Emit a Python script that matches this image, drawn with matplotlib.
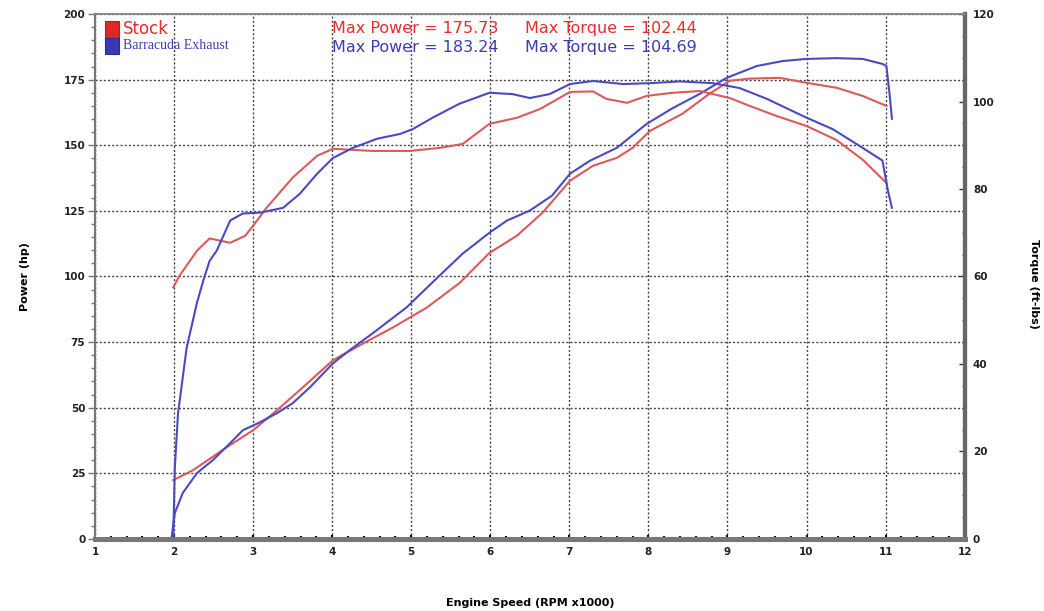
import matplotlib
matplotlib.use("Agg")
import matplotlib.pyplot as plt
from matplotlib.ticker import MultipleLocator
from matplotlib.patches import Rectangle

# ---- データ (rpm x1000) ----
stock_pwr_rpm = [1.99, 2.24, 2.67, 3.0, 3.30, 3.59, 4.01, 4.35, 4.77, 5.20, 5.61, 5.99, 6.34,
                 6.66, 7.01, 7.30, 7.60, 7.80, 8.02, 8.43, 8.77, 9.03, 9.28, 9.66, 10.0, 10.38,
                 10.71, 11.01]
stock_pwr = [22.4, 26.2, 35.0, 41.4, 49.0, 56.7, 68.1, 73.8, 80.6, 88.2, 97.5, 109.0, 115.6,
             124.3, 136.5, 142.2, 145.2, 149.0, 155.5, 162.0, 169.6, 174.6, 175.4, 175.7, 173.8,
             171.9, 168.8, 165.0]

stock_trq_rpm = [1.99, 2.07, 2.29, 2.45, 2.71, 2.90, 3.0, 3.17, 3.50, 3.81, 4.01, 4.51, 4.98,
                 5.36, 5.65, 5.99, 6.34, 6.63, 7.01, 7.30, 7.47, 7.73, 7.98, 8.31, 8.65, 9.03,
                 9.28, 9.62, 10.0, 10.38, 10.71, 11.01]
stock_trq = [57.5, 60.2, 65.9, 68.7, 67.7, 69.3, 71.6, 75.7, 82.6, 87.6, 89.2, 88.7, 88.7,
             89.4, 90.3, 94.9, 96.3, 98.3, 102.2, 102.3, 100.6, 99.7, 101.3, 102.0, 102.4, 100.8,
             99.0, 96.7, 94.4, 91.2, 86.7, 81.4]

baracuda_pwr_rpm = [1.97, 2.01, 2.11, 2.29, 2.49, 2.71, 2.87, 3.09, 3.30, 3.50, 3.72, 4.01, 4.22,
                    4.51, 4.94, 5.36, 5.65, 5.99, 6.21, 6.50, 6.78, 7.01, 7.26, 7.60, 7.98, 8.31,
                    8.65, 8.99, 9.37, 9.70, 10.0, 10.38, 10.71, 10.96, 11.01, 11.05, 11.08]
baracuda_pwr = [0.8, 9.9, 17.5, 25.1, 30.0, 36.5, 41.4, 44.5, 47.9, 51.7, 57.8, 66.9, 71.9,
                78.3, 88.2, 100.4, 108.7, 116.7, 121.3, 125.1, 130.8, 139.2, 144.1, 149.0, 158.2,
                164.2, 169.6, 175.7, 180.2, 182.1, 182.9, 183.2, 182.9, 181.0, 180.2, 169.6, 160.1]

baracuda_trq_rpm = [1.99, 2.01, 2.05, 2.16, 2.29, 2.37, 2.45, 2.54, 2.71, 2.87, 3.09, 3.38, 3.59,
                    3.81, 4.01, 4.26, 4.57, 4.86, 5.02, 5.27, 5.61, 5.99, 6.28, 6.50, 6.75, 7.01,
                    7.30, 7.68, 8.02, 8.40, 8.81, 9.15, 9.50, 10.0, 10.33, 10.71, 10.96, 11.03,
                    11.08]
baracuda_trq = [0.5, 16.4, 28.7, 43.8, 54.0, 59.1, 63.6, 65.9, 72.8, 74.4, 74.6, 75.7, 78.9,
                83.5, 87.1, 89.4, 91.5, 92.6, 93.7, 96.3, 99.5, 102.0, 101.7, 100.8, 101.7, 104.0,
                104.69, 104.0, 104.2, 104.6, 104.2, 103.1, 100.6, 96.3, 93.7, 89.4, 86.5, 79.6,
                75.7]

RED = "#dc5a5a"
BLUE = "#4a4ac4"
RED_TXT = "#ee2a2a"
BLUE_TXT = "#3c3cb4"
NARROW = ["Liberation Sans Narrow", "DejaVu Sans"]

# ---- 描画 ----
fig = plt.figure(figsize=(10.44, 6.11), dpi=100)
ax = fig.add_axes([0.091, 0.118, 0.833, 0.859])
ax.set_xlim(1, 12)
ax.set_ylim(0, 200)

ax.plot(stock_pwr_rpm, stock_pwr, color=RED, lw=1.5, zorder=3)
ax.plot(baracuda_pwr_rpm, baracuda_pwr, color=BLUE, lw=1.5, zorder=3)

ax2 = ax.twinx()
ax2.set_ylim(0, 120)
ax2.plot(stock_trq_rpm, stock_trq, color=RED, lw=1.5)
ax2.plot(baracuda_trq_rpm, baracuda_trq, color=BLUE, lw=1.5)

# grid
ax.xaxis.set_major_locator(MultipleLocator(1))
ax.xaxis.set_minor_locator(MultipleLocator(0.2))
ax.yaxis.set_major_locator(MultipleLocator(25))
ax.yaxis.set_minor_locator(MultipleLocator(5))
ax.grid(True, which="major", color="#444444", ls=(0, (1.5, 1.5)), lw=1.0)
ax2.yaxis.set_major_locator(MultipleLocator(20))
ax2.yaxis.set_minor_locator(MultipleLocator(5))

# spines
for a in (ax, ax2):
    a.spines["top"].set_color("#888888")
    a.spines["top"].set_linewidth(1.2)
    a.spines["left"].set_color("#777777")
    a.spines["left"].set_linewidth(1.5)
    a.spines["bottom"].set_color("#777777")
    a.spines["bottom"].set_linewidth(3.5)
    a.spines["right"].set_color("#666666")
    a.spines["right"].set_linewidth(3.0)

ax.tick_params(axis="x", which="major", direction="in", length=3, width=1.5, color="black",
               pad=6, labelsize=7.5)
ax.tick_params(axis="x", which="minor", direction="in", length=2, width=1.5, color="black")
ax.tick_params(axis="y", which="major", direction="out", length=5, width=1, color="#777777",
               pad=2, labelsize=7.5)
ax.tick_params(axis="y", which="minor", direction="out", length=3, width=1, color="#777777")
ax2.tick_params(axis="y", which="major", direction="in", length=4, width=1, color="#333333",
                pad=6, labelsize=7.5)
ax2.tick_params(axis="y", which="minor", direction="in", length=2, width=1, color="#333333")
for lab in ax.get_xticklabels() + ax.get_yticklabels() + ax2.get_yticklabels():
    lab.set_fontweight("bold")
    lab.set_color("#222222")

ax.set_ylabel("Power (hp)", fontsize=8, fontweight="bold", labelpad=24)
fig.text(0.990, 0.535, "Torque (ft-lbs)", fontsize=8, fontweight="bold", rotation=270,
         ha="center", va="center")
fig.text(0.508, 0.005, "Engine Speed (RPM x1000)", fontsize=8, fontweight="bold",
         ha="center", va="bottom")

# ---- 凡例 ----
ax.add_patch(Rectangle((0.012, 0.955), 0.016, 0.031, transform=ax.transAxes,
                       facecolor="#e02828", edgecolor="#b02020", lw=0.8, zorder=5))
ax.add_patch(Rectangle((0.012, 0.924), 0.016, 0.031, transform=ax.transAxes,
                       facecolor="#3a3ab0", edgecolor="#2a2a90", lw=0.8, zorder=5))
ax.text(0.032, 0.972, "Stock", transform=ax.transAxes, color=RED_TXT, fontsize=12,
        family=NARROW, va="center", ha="left")
ax.text(0.032, 0.940, "Barracuda Exhaust", transform=ax.transAxes, color=BLUE_TXT,
        fontsize=10, family=["Liberation Serif", "DejaVu Serif"], va="center", ha="left")

ax.text(0.273, 0.972, "Max Power = 175.73", transform=ax.transAxes, color=RED_TXT,
        fontsize=11.5, family=NARROW, va="center", ha="left")
ax.text(0.273, 0.937, "Max Power = 183.24", transform=ax.transAxes, color=BLUE_TXT,
        fontsize=11.5, family=NARROW, va="center", ha="left")
ax.text(0.494, 0.972, "Max Torque = 102.44", transform=ax.transAxes, color=RED_TXT,
        fontsize=11.5, family=NARROW, va="center", ha="left")
ax.text(0.494, 0.937, "Max Torque = 104.69", transform=ax.transAxes, color=BLUE_TXT,
        fontsize=11.5, family=NARROW, va="center", ha="left")

fig.savefig("out.png", dpi=100)
